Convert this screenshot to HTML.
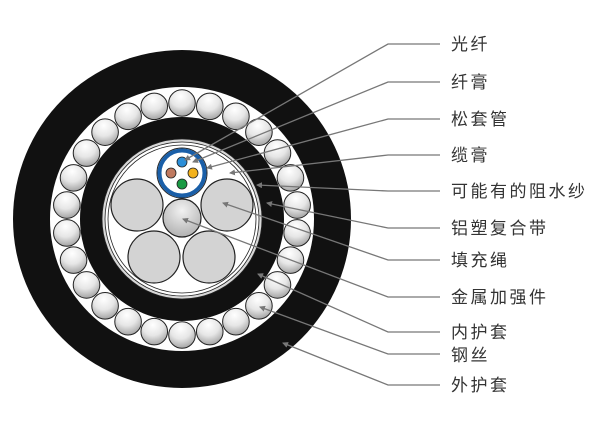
<!DOCTYPE html>
<html><head><meta charset="utf-8"><style>
html,body{margin:0;padding:0;background:#fff;}
svg{display:block}
text{font-family:"Liberation Sans","Noto Sans CJK SC",sans-serif;font-size:17px;fill:#333;letter-spacing:2.5px}
</style></head><body>
<svg width="600" height="439" viewBox="0 0 600 439" xmlns="http://www.w3.org/2000/svg">
<defs>
<radialGradient id="w" cx="0.45" cy="0.25" r="0.8">
<stop offset="0" stop-color="#ffffff"/><stop offset="0.5" stop-color="#e6e6e6"/><stop offset="1" stop-color="#9a9a9a"/>
</radialGradient>
<radialGradient id="c" cx="0.5" cy="0.3" r="0.8">
<stop offset="0" stop-color="#f2f2f2"/><stop offset="1" stop-color="#a8a8a8"/>
</radialGradient>
<marker id="a" markerWidth="6" markerHeight="6" refX="5" refY="3" orient="auto" markerUnits="userSpaceOnUse">
<path d="M0,0 L6,3 L0,6 z" fill="#777"/></marker>
</defs>
<circle cx="182" cy="219" r="169" fill="#111"/>
<circle cx="182" cy="219" r="132" fill="#fff"/>
<g stroke="#222" stroke-width="1" fill="url(#w)">
<circle cx="182" cy="103" r="13.3"/>
<circle cx="209.76" cy="106.37" r="13.3"/>
<circle cx="235.91" cy="116.28" r="13.3"/>
<circle cx="258.92" cy="132.17" r="13.3"/>
<circle cx="277.47" cy="153.10" r="13.3"/>
<circle cx="290.46" cy="177.87" r="13.3"/>
<circle cx="297.15" cy="205.02" r="13.3"/>
<circle cx="297.15" cy="232.98" r="13.3"/>
<circle cx="290.46" cy="260.13" r="13.3"/>
<circle cx="277.47" cy="284.90" r="13.3"/>
<circle cx="258.92" cy="305.83" r="13.3"/>
<circle cx="235.91" cy="321.72" r="13.3"/>
<circle cx="209.76" cy="331.63" r="13.3"/>
<circle cx="182" cy="335" r="13.3"/>
<circle cx="154.24" cy="331.63" r="13.3"/>
<circle cx="128.09" cy="321.72" r="13.3"/>
<circle cx="105.08" cy="305.83" r="13.3"/>
<circle cx="86.53" cy="284.90" r="13.3"/>
<circle cx="73.54" cy="260.13" r="13.3"/>
<circle cx="66.85" cy="232.98" r="13.3"/>
<circle cx="66.85" cy="205.02" r="13.3"/>
<circle cx="73.54" cy="177.87" r="13.3"/>
<circle cx="86.53" cy="153.10" r="13.3"/>
<circle cx="105.08" cy="132.17" r="13.3"/>
<circle cx="128.09" cy="116.28" r="13.3"/>
<circle cx="154.24" cy="106.37" r="13.3"/>
</g>
<circle cx="182" cy="219" r="102" fill="#111"/>
<circle cx="182" cy="219" r="80" fill="#d8d8d8" stroke="#222" stroke-width="0.8"/>
<circle cx="182" cy="219" r="77" fill="#fff" stroke="#222" stroke-width="0.8"/>
<circle cx="182" cy="219" r="74" fill="#fff" stroke="#222" stroke-width="0.8"/>
<g stroke="#222" stroke-width="1.2" fill="#d3d3d3">
<circle cx="137" cy="205" r="26"/>
<circle cx="227" cy="205" r="26"/>
<circle cx="154" cy="257" r="26"/>
<circle cx="209" cy="257" r="26"/>
<circle cx="182" cy="218" r="19" fill="url(#c)"/>
</g>
<circle cx="182" cy="173" r="25" fill="#fff" stroke="#222" stroke-width="1"/>
<circle cx="182" cy="173" r="22.5" fill="none" stroke="#1a5fa8" stroke-width="4"/>
<g stroke="#222" stroke-width="0.8">
<circle cx="182" cy="162" r="5" fill="#2b8ed8"/>
<circle cx="171" cy="173" r="5" fill="#c07a60"/>
<circle cx="193" cy="173" r="5" fill="#f3b21c"/>
<circle cx="182" cy="184" r="5" fill="#1a9a44"/>
</g>
<g stroke="#777" stroke-width="1.3" fill="none">
<polyline points="440,44 388,44 185,160" marker-end="url(#a)"/>
<polyline points="440,82 388,82 193,162" marker-end="url(#a)"/>
<polyline points="440,119 388,119 207,168" marker-end="url(#a)"/>
<polyline points="440,155 388,155 230,173" marker-end="url(#a)"/>
<polyline points="440,191 388,191 257,185" marker-end="url(#a)"/>
<polyline points="440,228 388,228 267,203" marker-end="url(#a)"/>
<polyline points="440,260 388,260 223,203" marker-end="url(#a)"/>
<polyline points="440,297 388,297 183,219" marker-end="url(#a)"/>
<polyline points="440,332 388,332 258,274" marker-end="url(#a)"/>
<polyline points="440,354 388,354 260,307" marker-end="url(#a)"/>
<polyline points="440,385 388,385 283,343" marker-end="url(#a)"/>
</g>
<g>
<text x="451" y="50">光纤</text>
<text x="451" y="88">纤膏</text>
<text x="451" y="125">松套管</text>
<text x="451" y="161">缆膏</text>
<text x="451" y="197">可能有的阻水纱</text>
<text x="451" y="234">铝塑复合带</text>
<text x="451" y="266">填充绳</text>
<text x="451" y="303">金属加强件</text>
<text x="451" y="338">内护套</text>
<text x="451" y="361">钢丝</text>
<text x="451" y="391">外护套</text>
</g>
</svg>
</body></html>
